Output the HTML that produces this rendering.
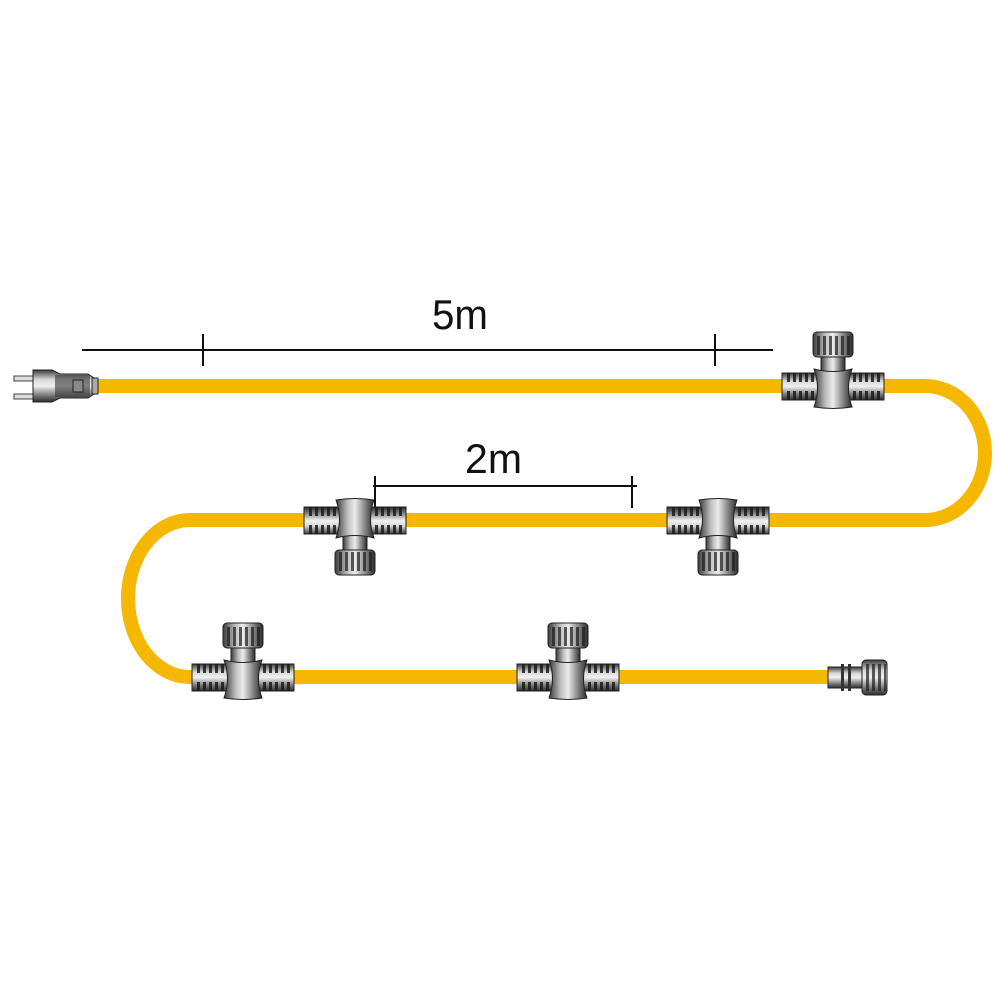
<!DOCTYPE html>
<html><head><meta charset="utf-8"><style>html,body{margin:0;padding:0;background:#fff}svg{display:block}</style></head>
<body>
<svg width="1000" height="1000" viewBox="0 0 1000 1000" xmlns="http://www.w3.org/2000/svg">
<defs>
<linearGradient id="gv" x1="0" y1="0" x2="0" y2="1">
<stop offset="0" stop-color="#3a3a3a"/><stop offset="0.3" stop-color="#d8d8d8"/><stop offset="0.5" stop-color="#f0f0f0"/><stop offset="0.75" stop-color="#8a8a8a"/><stop offset="1" stop-color="#2a2a2a"/>
</linearGradient>
<linearGradient id="gh" x1="0" y1="0" x2="1" y2="0">
<stop offset="0" stop-color="#3a3a3a"/><stop offset="0.3" stop-color="#bdbdbd"/><stop offset="0.5" stop-color="#ececec"/><stop offset="0.75" stop-color="#8a8a8a"/><stop offset="1" stop-color="#2a2a2a"/>
</linearGradient>
<pattern id="rib" width="6" height="10" patternUnits="userSpaceOnUse"><rect x="2" y="0" width="3" height="10" fill="#1a1a1a" opacity="0.85"/></pattern>
<pattern id="ribv" width="6" height="10" patternUnits="userSpaceOnUse"><rect x="2" y="0" width="3" height="10" fill="#1a1a1a" opacity="0.7"/></pattern>
<g id="tee">
<rect x="-51" y="-13" width="102" height="27" fill="url(#gv)" stroke="#222" stroke-width="1"/>
<rect x="-47" y="-13" width="28" height="9" fill="url(#rib)"/>
<rect x="-47" y="5" width="28" height="9" fill="url(#rib)"/>
<rect x="19" y="-13" width="28" height="9" fill="url(#rib)"/>
<rect x="19" y="5" width="28" height="9" fill="url(#rib)"/>
<rect x="-12" y="-31" width="24" height="18" fill="url(#gh)" stroke="#222" stroke-width="1"/>
<path d="M-19,-17 Q0,-12 19,-17 Q12,2 19,21 Q0,24 -19,21 Q-12,2 -19,-17Z" fill="url(#gh)" stroke="#222" stroke-width="1"/>
<rect x="-20" y="-54" width="40" height="25" rx="4" fill="url(#gh)" stroke="#222" stroke-width="1"/>
<rect x="-18" y="-50" width="36" height="19" fill="url(#ribv)"/>
</g>
</defs>
<g fill="none" stroke="#F5B700" stroke-width="14">
<path d="M95,386 H885 H925 A60,67 0 0 1 925,520 H190 A62,78.5 0 0 0 190,677 H830"/>
</g>
<g stroke="#111" stroke-width="2">
<line x1="82" y1="350" x2="773" y2="350"/>
<line x1="203" y1="334" x2="203" y2="366"/>
<line x1="715" y1="334" x2="715" y2="366"/>
<line x1="373" y1="486" x2="637" y2="486"/>
<line x1="375" y1="476" x2="375" y2="508"/>
<line x1="632" y1="476" x2="632" y2="508"/>
</g>
<text x="432" y="329" font-family="Liberation Sans, sans-serif" font-size="42" textLength="56" lengthAdjust="spacingAndGlyphs" fill="#111">5m</text>
<text x="465" y="473" font-family="Liberation Sans, sans-serif" font-size="42" textLength="57" lengthAdjust="spacingAndGlyphs" fill="#111">2m</text>
<g>
<rect x="14" y="376" width="22" height="5" fill="#ddd" stroke="#444" stroke-width="1"/>
<rect x="14" y="394" width="22" height="5" fill="#ddd" stroke="#444" stroke-width="1"/>
<path d="M33,370 H52 L60,374 H88 L94,378 V394 L88,398 H60 L52,402 H33 Z" fill="url(#gv)" stroke="#222" stroke-width="1"/>
<rect x="55" y="375" width="35" height="22" fill="#333" opacity="0.6"/>
<rect x="73" y="380" width="10" height="12" fill="#888" stroke="#222"/>
<rect x="92" y="378" width="6" height="16" fill="#aaa" stroke="#222"/>
</g>
<use href="#tee" x="833" y="386"/>
<use href="#tee" transform="translate(355,521) scale(1,-1)"/>
<use href="#tee" transform="translate(718,521) scale(1,-1)"/>
<use href="#tee" x="243" y="677"/>
<use href="#tee" x="568" y="677"/>
<g>
<rect x="828" y="667" width="35" height="21" fill="url(#gv)" stroke="#222" stroke-width="1"/>
<rect x="841" y="664" width="3" height="27" fill="#333"/>
<rect x="848" y="664" width="3" height="27" fill="#333"/>
<rect x="862" y="660" width="25" height="35" rx="4" fill="url(#gv)" stroke="#222" stroke-width="1"/>
<rect x="864" y="664" width="22" height="27" fill="url(#ribv)"/>
</g>
</svg>
</body></html>
